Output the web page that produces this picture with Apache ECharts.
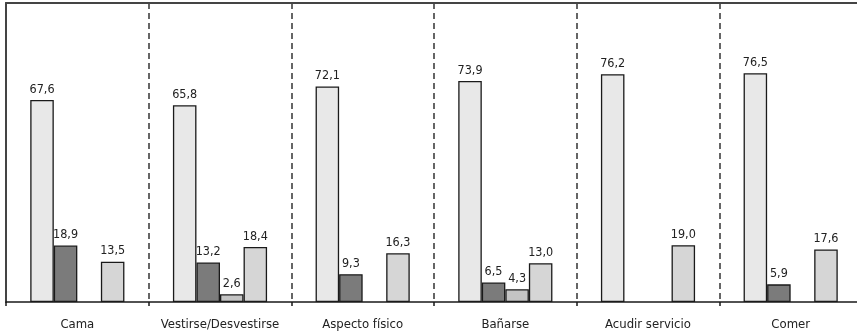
<!DOCTYPE html>
<html>
<head>
<meta charset="utf-8">
<script src="https://cdn.jsdelivr.net/npm/echarts@6/dist/echarts.min.js"></script>
<style>
  html, body { margin: 0; padding: 0; background: #fff; overflow: hidden; }
  #chart { width: 857px; height: 335px; }
</style>
</head>
<body>
<div id="chart"></div>
<script>
// Activity categories and the four percentage series per activity
const categories = ['Cama', 'Vestirse/Desvestirse', 'Aspecto físico', 'Bañarse', 'Acudir servicio', 'Comer'];
const serieA = [67.6, 65.8, 72.1, 73.9, 76.2, 76.5];
const serieB = [18.9, 13.2, 9.3, 6.5, null, 5.9];
const serieC = [null, 2.6, null, 4.3, null, null];
const serieD = [13.5, 18.4, 16.3, 13.0, 19.0, 17.6];

const FONT = 'DejaVu Sans Condensed';
const fills = ['#e8e8e8', '#7b7b7b', '#c4c4c4', '#d6d6d6'];

function barSeries(data, color) {
  return {
    type: 'bar',
    xAxisIndex: 0,
    data: data,
    barGap: '0%',
    barCategoryGap: '34%',
    itemStyle: { color: color, borderColor: '#1a1a1a', borderWidth: 1.3 },
    label: {
      show: true,
      position: 'top',
      distance: 4,
      color: '#222',
      fontFamily: FONT,
      fontSize: 12.5,
      formatter: p => p.value == null ? '' : p.value.toFixed(1).replace('.', ',')
    },
    emphasis: { disabled: true }
  };
}

const chart = echarts.init(document.getElementById('chart'), null, { renderer: 'canvas' });
chart.setOption({
  animation: false,
  grid: {
    // the plot area runs on past the right edge of the page
    left: 6, right: -5, top: 3, bottom: 33,
    outerBoundsMode: 'none',
    containLabel: false
  },
  xAxis: [{
    type: 'category',
    data: categories,
    boundaryGap: true,
    axisLine: { lineStyle: { color: '#1a1a1a', width: 1.5 } },
    axisTick: { show: true, alignWithLabel: false, length: 4, lineStyle: { color: '#1a1a1a', width: 1.5 } },
    axisLabel: { color: '#222', fontFamily: FONT, fontSize: 13, margin: 16, interval: 0 },
    splitLine: { show: true, interval: 0, lineStyle: { color: '#333', width: 1.5, type: [6, 4] } }
  }, {
    // plain rule along the top of the plot
    type: 'category',
    data: categories,
    position: 'top',
    axisLine: { show: true, lineStyle: { color: '#444', width: 2 } },
    axisTick: { show: false },
    axisLabel: { show: false },
    splitLine: { show: false }
  }],
  yAxis: {
    type: 'value',
    min: 0, max: 100,
    axisLine: { show: true, lineStyle: { color: '#444', width: 2 } },
    axisTick: { show: false },
    axisLabel: { show: false },
    splitLine: { show: false }
  },
  series: [
    barSeries(serieA, fills[0]),
    barSeries(serieB, fills[1]),
    barSeries(serieC, fills[2]),
    barSeries(serieD, fills[3])
  ]
});
</script>
</body>
</html>
